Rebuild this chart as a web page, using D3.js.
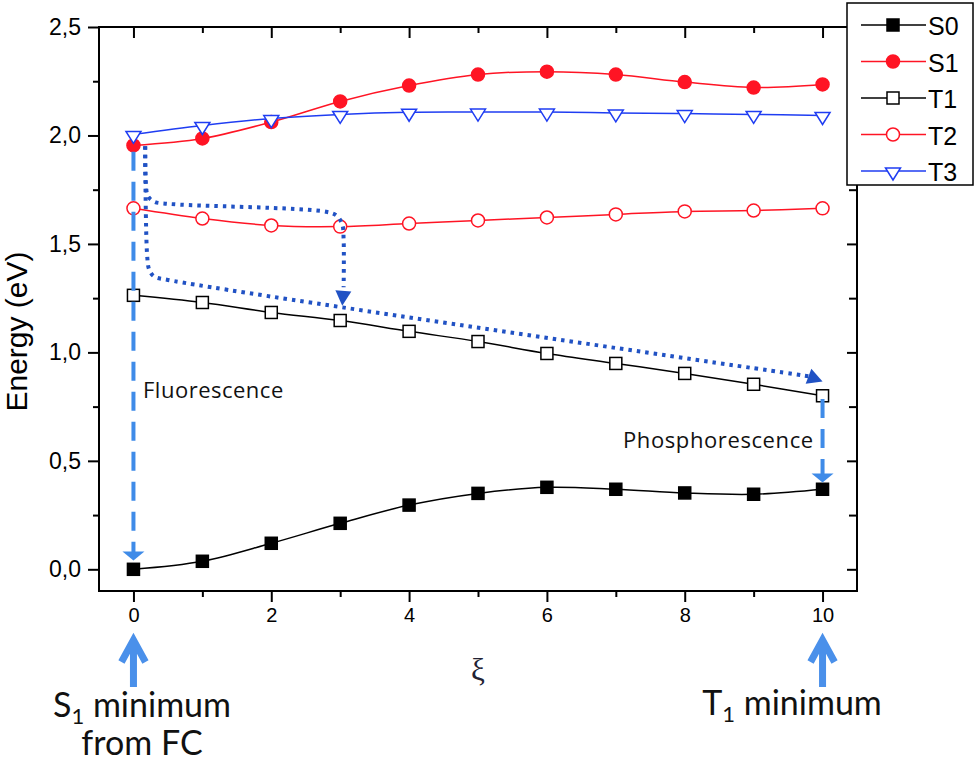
<!DOCTYPE html>
<html>
<head>
<meta charset="utf-8">
<script src="https://cdn.jsdelivr.net/npm/d3@7"></script>
<style>
  body { margin: 0; background: #fff; }
  svg { display: block; }
</style>
</head>
<body>
<div id="chart"></div>
<script>
// reaction coordinate
const xi = [0, 1, 2, 3, 4, 5, 6, 7, 8, 9, 10];

// state energies (eV)
const S0 = [0.000, 0.037, 0.120, 0.212, 0.296, 0.350, 0.378, 0.369, 0.352, 0.346, 0.369];
const S1 = [1.954, 1.986, 2.062, 2.157, 2.230, 2.281, 2.294, 2.281, 2.246, 2.221, 2.235];
const T1 = [1.263, 1.230, 1.184, 1.147, 1.097, 1.050, 0.995, 0.949, 0.903, 0.853, 0.800];
const T2 = [1.664, 1.617, 1.585, 1.580, 1.594, 1.608, 1.622, 1.636, 1.650, 1.654, 1.664];
const T3 = [2.005, 2.046, 2.078, 2.097, 2.107, 2.108, 2.108, 2.104, 2.101, 2.097, 2.092];

const seriesNames = ["S0", "S1", "T1", "T2", "T3"];

const xTicks = [0, 2, 4, 6, 8, 10];
const xMinor = [1, 3, 5, 7, 9];
const yTicks = [0, 0.5, 1.0, 1.5, 2.0, 2.5];
const yMinor = [0.25, 0.75, 1.25, 1.75, 2.25];

// annotation paths in data units
const fluoPath = [[0, 1.925], [0, 0.07]];
const phosPath = [[10, 0.785], [10, 0.42]];
const hopA = [[0.17, 1.95], [0.18, 1.78], [0.21, 1.72], [0.3, 1.695], [0.5, 1.685], [2.8, 1.648], [2.95, 1.63], [3.03, 1.59], [3.05, 1.52], [3.05, 1.3]];
const hopB = [[0.17, 1.95], [0.2, 1.44], [0.23, 1.38], [0.3, 1.35], [0.5, 1.334], [9.8, 0.89]];

const width = 980, height = 762;
const margin = {left: 99, right: 123, top: 27, bottom: 171};

const x = d3.scaleLinear().domain([-0.5, 10.5]).range([margin.left, width - margin.right]);
const y = d3.scaleLinear().domain([-0.1, 2.5]).range([height - margin.bottom, margin.top]);

const svg = d3.select("#chart").append("svg")
    .attr("width", width)
    .attr("height", height);

const tickFont = "'Liberation Sans', Arial, sans-serif";
const noteFont = "'Open Sans', sans-serif";

// axes
const fmt = d => d.toFixed(1).replace(".", ",");
const y0 = y.range()[0], y1 = y.range()[1];
const x0 = x.range()[0], x1 = x.range()[1];

function styleAxis(g, size) {
    g.select(".domain").remove();
    g.attr("font-family", tickFont).attr("font-size", size || 10);
    g.selectAll("line").attr("stroke", "#000").attr("stroke-width", 2);
    g.selectAll("text").attr("fill", "#000").style("font-size", (size || 10) + "px");
}

svg.append("g").attr("transform", `translate(0,${y0})`)
    .call(d3.axisBottom(x).tickValues(xTicks).tickSize(11).tickPadding(6).tickFormat(d3.format("d")))
    .call(styleAxis, 20);
svg.append("g").attr("transform", `translate(0,${y0})`)
    .call(d3.axisBottom(x).tickValues(xMinor).tickSize(6).tickFormat(""))
    .call(styleAxis);
svg.append("g").attr("transform", `translate(0,${y1})`)
    .call(d3.axisTop(x).tickValues(xTicks).tickSize(-11).tickFormat(""))
    .call(styleAxis);
svg.append("g").attr("transform", `translate(0,${y1})`)
    .call(d3.axisTop(x).tickValues(xMinor).tickSize(-6).tickFormat(""))
    .call(styleAxis);

svg.append("g").attr("transform", `translate(${x0},0)`)
    .call(d3.axisLeft(y).tickValues(yTicks).tickSize(11).tickPadding(7).tickFormat(fmt))
    .call(styleAxis, 23);
svg.append("g").attr("transform", `translate(${x0},0)`)
    .call(d3.axisLeft(y).tickValues(yMinor).tickSize(6).tickFormat(""))
    .call(styleAxis);
svg.append("g").attr("transform", `translate(${x1},0)`)
    .call(d3.axisRight(y).tickValues(yTicks).tickSize(-10).tickFormat(""))
    .call(styleAxis);
svg.append("g").attr("transform", `translate(${x1},0)`)
    .call(d3.axisRight(y).tickValues(yMinor).tickSize(-8).tickFormat(""))
    .call(styleAxis);

svg.append("rect")
    .attr("x", x0).attr("y", y1)
    .attr("width", x1 - x0).attr("height", y0 - y1)
    .attr("fill", "none").attr("stroke", "#000").attr("stroke-width", 2);

// axis titles
svg.append("text")
    .attr("transform", `translate(27,${(250 + 413) / 2}) rotate(-90)`)
    .attr("text-anchor", "middle")
    .attr("font-family", tickFont)
    .attr("font-size", 30)
    .text("Energy (eV)");

svg.append("text")
    .attr("x", x(5)).attr("y", 680)
    .attr("text-anchor", "middle")
    .attr("font-family", "'Liberation Serif', 'DejaVu Serif', serif")
    .attr("font-size", 31)
    .attr("fill", "#223")
    .text("ξ");

// series
const red = "#ff1424", blue = "#1f3df2";
const styles = {
    S0: {color: "#000", shape: "square", fill: "#000"},
    S1: {color: red, shape: "circle", fill: red},
    T1: {color: "#000", shape: "square", fill: "#fff"},
    T2: {color: red, shape: "circle", fill: "#fff"},
    T3: {color: blue, shape: "triangle", fill: "#fff"}
};
const values = {S0, S1, T1, T2, T3};

function marker(g, st) {
    if (st.shape === "square") {
        g.append("rect").attr("x", -6).attr("y", -6).attr("width", 12).attr("height", 12)
            .attr("fill", st.fill).attr("stroke", st.color).attr("stroke-width", 1.5);
    } else if (st.shape === "circle") {
        g.append("circle").attr("r", 6.5)
            .attr("fill", st.fill).attr("stroke", st.color).attr("stroke-width", 1.5);
    } else {
        g.append("path").attr("d", "M-7.5,-3L7.5,-3L0,9Z")
            .attr("fill", st.fill).attr("stroke", st.color).attr("stroke-width", 1.5)
            .attr("stroke-linejoin", "miter");
    }
}

const line = d3.line()
    .x(d => x(d[0]))
    .y(d => y(d[1]))
    .curve(d3.curveCatmullRom.alpha(0.5));

seriesNames.forEach(name => {
    const st = styles[name];
    const pts = xi.map((v, i) => [v, values[name][i]]);
    svg.append("path")
        .attr("d", line(pts))
        .attr("fill", "none")
        .attr("stroke", st.color)
        .attr("stroke-width", 1.5);
    svg.append("g").selectAll("g")
        .data(pts)
        .join("g")
        .attr("transform", d => `translate(${x(d[0])},${y(d[1])})`)
        .each(function () { marker(d3.select(this), st); });
});

// annotations
const lightBlue = "#3f8be8", darkBlue = "#2152c4";
const straight = d3.line().x(d => x(d[0])).y(d => y(d[1]));
const rounded = d3.line().x(d => x(d[0])).y(d => y(d[1])).curve(d3.curveCatmullRom.alpha(0.5));

function arrowHead(tip, from, len, half, color) {
    const tx = x(tip[0]), ty = y(tip[1]);
    const fx = x(from[0]), fy = y(from[1]);
    const a = Math.atan2(ty - fy, tx - fx);
    const bx = tx - len * Math.cos(a), by = ty - len * Math.sin(a);
    const px = -Math.sin(a) * half, py = Math.cos(a) * half;
    svg.append("path")
        .attr("d", `M${tx},${ty}L${bx + px},${by + py}L${bx - px},${by - py}Z`)
        .attr("fill", color);
}

[[fluoPath, [0, 0.041]], [phosPath, [10, 0.40]]].forEach(([p, tip]) => {
    svg.append("path")
        .attr("d", straight(p))
        .attr("fill", "none")
        .attr("stroke", lightBlue)
        .attr("stroke-width", 4)
        .attr("stroke-dasharray", "19 11");
    arrowHead(tip, p[0], 9, 11, lightBlue);
});

[[hopA, [3.03, 1.215]], [hopB, [10.0, 0.866]]].forEach(([p, tip]) => {
    svg.append("path")
        .attr("d", rounded(p))
        .attr("fill", "none")
        .attr("stroke", darkBlue)
        .attr("stroke-width", 4)
        .attr("stroke-dasharray", "3.5 5");
    arrowHead(tip, p[p.length - 1], 15, 8, darkBlue);
});

svg.append("text")
    .attr("x", 143).attr("y", 398)
    .attr("font-family", noteFont).attr("font-size", 22)
    .attr("letter-spacing", 0.5)
    .attr("fill", "#111")
    .text("Fluorescence");

svg.append("text")
    .attr("x", 623).attr("y", 448)
    .attr("font-family", noteFont).attr("font-size", 22)
    .attr("letter-spacing", 0.6)
    .attr("fill", "#111")
    .text("Phosphorescence");

// bottom arrows and labels
const arrowBlue = "#4a90ea";
[0, 10].forEach(v => {
    const cx = x(v);
    svg.append("path")
        .attr("d", `M${cx},687V640M${cx - 12},662L${cx},640L${cx + 12},662`)
        .attr("fill", "none")
        .attr("stroke", arrowBlue)
        .attr("stroke-width", 7)
        .attr("stroke-linecap", "butt")
        .attr("stroke-linejoin", "miter");
});

const bigFont = "Lato, 'Open Sans', sans-serif";
function subLabel(cx, yy, main, sub, rest) {
    const t = svg.append("text")
        .attr("x", cx).attr("y", yy)
        .attr("text-anchor", "middle")
        .attr("font-family", bigFont).attr("font-size", 34)
        .attr("fill", "#111");
    t.append("tspan").text(main);
    t.append("tspan").attr("font-size", 22).attr("dy", 7).text(sub);
    t.append("tspan").attr("dy", -7).text(rest);
}
subLabel(142, 717, "S", "1", " minimum");
svg.append("text")
    .attr("x", 142).attr("y", 755)
    .attr("text-anchor", "middle")
    .attr("font-family", bigFont).attr("font-size", 34)
    .attr("fill", "#111")
    .text("from FC");
subLabel(792, 715, "T", "1", " minimum");

// legend
const lg = svg.append("g");
lg.append("rect")
    .attr("x", 847).attr("y", 3)
    .attr("width", 126).attr("height", 182)
    .attr("fill", "#fff").attr("stroke", "#000").attr("stroke-width", 1.5);
seriesNames.forEach((name, i) => {
    const st = styles[name];
    const ly = 25 + i * 36.5;
    lg.append("line")
        .attr("x1", 861).attr("x2", 926)
        .attr("y1", ly).attr("y2", ly)
        .attr("stroke", st.color).attr("stroke-width", 1.5);
    const m = lg.append("g").attr("transform", `translate(893,${ly})`);
    marker(m, st);
    lg.append("text")
        .attr("x", 928).attr("y", ly + 10)
        .attr("font-family", tickFont).attr("font-size", 25)
        .text(name);
});
</script>
</body>
</html>
